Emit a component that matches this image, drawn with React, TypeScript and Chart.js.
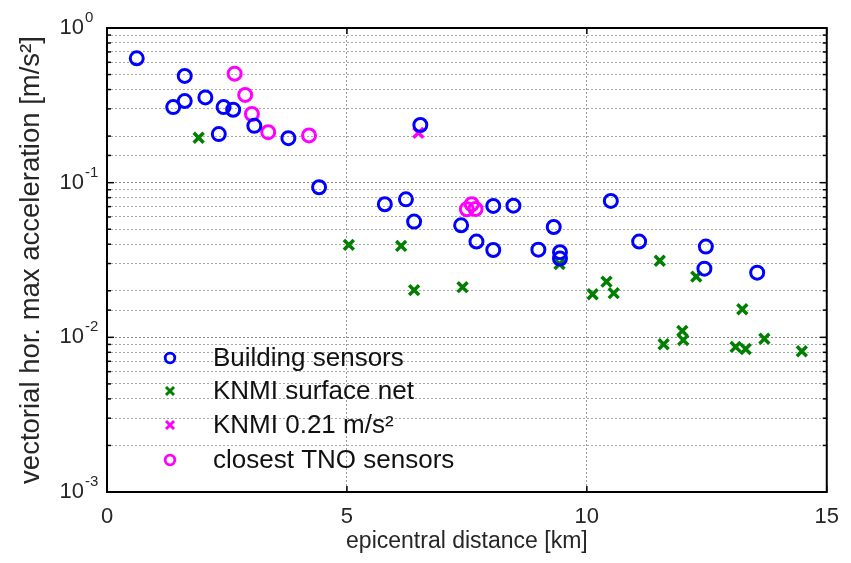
import React, { useEffect, useRef } from 'react';
import { Chart, registerables } from 'chart.js';

Chart.register(...registerables);

const FONT = '"Liberation Sans", Arial, Helvetica, sans-serif';

const seriesLabels = ['Building sensors', 'KNMI surface net', 'KNMI 0.21 m/s²', 'closest TNO sensors'];
const seriesColors = ['#0000ff', '#007f00', '#ff00ff', '#ff00ff'];

const buildingX = [0.62, 1.62, 1.38, 1.62, 2.05, 2.33, 2.43, 2.63, 3.07, 3.78, 4.42, 6.53, 5.79, 6.23, 6.40, 7.38, 7.70, 8.05, 8.05, 8.47, 8.99, 9.31, 9.44, 9.44, 10.50, 11.09, 12.48, 12.45, 13.55];
const buildingY = [0.637, 0.49, 0.308, 0.337, 0.356, 0.206, 0.308, 0.296, 0.233, 0.194, 0.0934, 0.236, 0.0725, 0.078, 0.056, 0.053, 0.0416, 0.0367, 0.0707, 0.071, 0.0369, 0.0517, 0.0355, 0.0323, 0.0762, 0.0416, 0.0386, 0.0278, 0.0262];

const knmiX = [1.91, 5.04, 6.13, 6.40, 7.41, 9.43, 10.12, 10.41, 10.56, 11.52, 12.28, 13.24, 11.60, 11.99, 12.01, 13.10, 13.31, 13.70, 14.48];
const knmiY = [0.195, 0.0396, 0.039, 0.0202, 0.0211, 0.0298, 0.019, 0.0229, 0.0193, 0.0313, 0.0247, 0.0152, 0.00902, 0.011, 0.0096, 0.00867, 0.0084, 0.0098, 0.00813];

const knmiPeakX = [6.49];
const knmiPeakY = [0.21];

const tnoX = [2.66, 2.88, 3.02, 3.36, 4.21, 7.50, 7.60, 7.68];
const tnoY = [0.507, 0.369, 0.278, 0.212, 0.202, 0.0673, 0.0725, 0.0676];

const xTickValues = [0, 5, 10, 15];
const yDecadeExponents = [0, -1, -2, -3];

const xTitle = 'epicentral distance [km]';
const yTitle = 'vectorial hor. max acceleration [m/s²]';

const toPoints = (xs: number[], ys: number[]) => xs.map((x, i) => ({ x, y: ys[i] }));

const isDecade = (v: number) => Math.abs(Math.log10(v) - Math.round(Math.log10(v))) < 1e-9;

const framePlugin = {
  id: 'frameTicks',
  afterDatasetsDraw(chart: any) {
    const { ctx, chartArea } = chart;
    const { left, right, top, bottom } = chartArea;
    const xs = chart.scales.x;
    const ys = chart.scales.y;
    ctx.save();
    ctx.strokeStyle = '#000';
    ctx.lineWidth = 1.5;
    const line = (x1: number, y1: number, x2: number, y2: number) => {
      ctx.beginPath();
      ctx.moveTo(x1, y1);
      ctx.lineTo(x2, y2);
      ctx.stroke();
    };
    xs.ticks.forEach((t: any) => {
      const px = xs.getPixelForValue(t.value);
      line(px, bottom, px, bottom - 6);
      line(px, top, px, top + 6);
    });
    ys.ticks.forEach((t: any) => {
      const py = ys.getPixelForValue(t.value);
      const len = isDecade(t.value) ? 7 : 4;
      line(left, py, left + len, py);
      line(right, py, right - len, py);
    });
    ctx.lineWidth = 2;
    ctx.strokeRect(left, top, right - left, bottom - top);
    ctx.restore();
  },
};

const yLabelPlugin = {
  id: 'yDecadeLabels',
  afterDraw(chart: any) {
    const { ctx } = chart;
    const ys = chart.scales.y;
    ctx.save();
    ctx.fillStyle = '#262626';
    yDecadeExponents.forEach((e) => {
      const py = ys.getPixelForValue(Math.pow(10, e));
      ctx.font = `22px ${FONT}`;
      ctx.textAlign = 'right';
      ctx.textBaseline = 'middle';
      ctx.fillText('10', 84, py);
      ctx.font = `15px ${FONT}`;
      ctx.textAlign = 'left';
      ctx.fillText(String(e), 85, py - 10);
    });
    ctx.restore();
  },
};

const legendPlugin = {
  id: 'innerLegend',
  afterDraw(chart: any) {
    const { ctx } = chart;
    const rows = [358, 391, 425, 460];
    const mx = 170;
    ctx.save();
    seriesLabels.forEach((label, i) => {
      const y = rows[i];
      ctx.strokeStyle = seriesColors[i];
      if (i === 0 || i === 3) {
        ctx.lineWidth = 2.8;
        ctx.beginPath();
        ctx.arc(mx, y, 4.8, 0, Math.PI * 2);
        ctx.stroke();
      } else {
        ctx.lineWidth = 3;
        const s = 4;
        ctx.beginPath();
        ctx.moveTo(mx - s, y - s);
        ctx.lineTo(mx + s, y + s);
        ctx.moveTo(mx + s, y - s);
        ctx.lineTo(mx - s, y + s);
        ctx.stroke();
      }
      ctx.fillStyle = '#111';
      ctx.font = `26px ${FONT}`;
      ctx.textAlign = 'left';
      ctx.textBaseline = 'middle';
      ctx.fillText(label, 213, y + 1);
    });
    ctx.restore();
  },
};

export default function App() {
  const canvasRef = useRef<HTMLCanvasElement | null>(null);

  useEffect(() => {
    document.body.style.margin = '0';
    const canvas = canvasRef.current;
    if (!canvas) return;
    const chart = new Chart(canvas, {
      type: 'scatter',
      data: {
        datasets: [
          {
            label: seriesLabels[0],
            data: toPoints(buildingX, buildingY),
            pointStyle: 'circle',
            pointRadius: 6.5,
            pointBorderWidth: 3,
            borderColor: seriesColors[0],
            backgroundColor: 'transparent',
            pointBackgroundColor: 'transparent',
            pointBorderColor: seriesColors[0],
          },
          {
            label: seriesLabels[1],
            data: toPoints(knmiX, knmiY),
            pointStyle: 'crossRot',
            pointRadius: 7,
            pointBorderWidth: 3.5,
            borderColor: seriesColors[1],
            pointBorderColor: seriesColors[1],
          },
          {
            label: seriesLabels[2],
            data: toPoints(knmiPeakX, knmiPeakY),
            pointStyle: 'crossRot',
            pointRadius: 7,
            pointBorderWidth: 3.5,
            borderColor: seriesColors[2],
            pointBorderColor: seriesColors[2],
          },
          {
            label: seriesLabels[3],
            data: toPoints(tnoX, tnoY),
            pointStyle: 'circle',
            pointRadius: 6.5,
            pointBorderWidth: 3,
            borderColor: seriesColors[3],
            backgroundColor: 'transparent',
            pointBackgroundColor: 'transparent',
            pointBorderColor: seriesColors[3],
          },
        ],
      },
      options: {
        responsive: false,
        animation: false,
        layout: { padding: { top: 28, right: 22, left: 0, bottom: 0 } },
        plugins: {
          legend: { display: false },
          tooltip: { enabled: false },
        },
        scales: {
          x: {
            type: 'linear',
            min: 0,
            max: 15,
            afterBuildTicks: (scale: any) => {
              scale.ticks = xTickValues.map((v) => ({ value: v }));
            },
            ticks: {
              font: { family: FONT, size: 22 },
              color: '#262626',
              padding: 12,
              maxRotation: 0,
            },
            grid: {
              drawTicks: false,
              color: (c: any) => (c.tick && (c.tick.value === 5 || c.tick.value === 10) ? '#9a9a9a' : 'transparent'),
              lineWidth: 1,
            },
            border: { display: false, dash: [2, 2] },
            title: {
              display: true,
              text: xTitle,
              font: { family: FONT, size: 23 },
              color: '#262626',
              padding: { top: 0, bottom: 8 },
            },
            afterFit: (scale: any) => {
              scale.height = 71;
            },
          },
          y: {
            type: 'logarithmic',
            min: 0.001,
            max: 1,
            ticks: { display: false },
            grid: {
              drawTicks: false,
              color: (c: any) => (c.tick && isDecade(c.tick.value) ? '#888888' : '#a8a8a8'),
              lineWidth: 1,
            },
            border: { display: false, dash: [2, 2] },
            title: {
              display: true,
              text: yTitle,
              font: { family: FONT, size: 27.5 },
              color: '#262626',
              padding: { top: 15, bottom: 0 },
            },
            afterFit: (scale: any) => {
              scale.width = 107;
            },
          },
        },
      },
      plugins: [framePlugin, yLabelPlugin, legendPlugin],
    });
    return () => chart.destroy();
  }, []);

  return (
    <div style={{ width: 851, height: 563 }}>
      <canvas ref={canvasRef} width={851} height={563} style={{ display: 'block' }} />
    </div>
  );
}
